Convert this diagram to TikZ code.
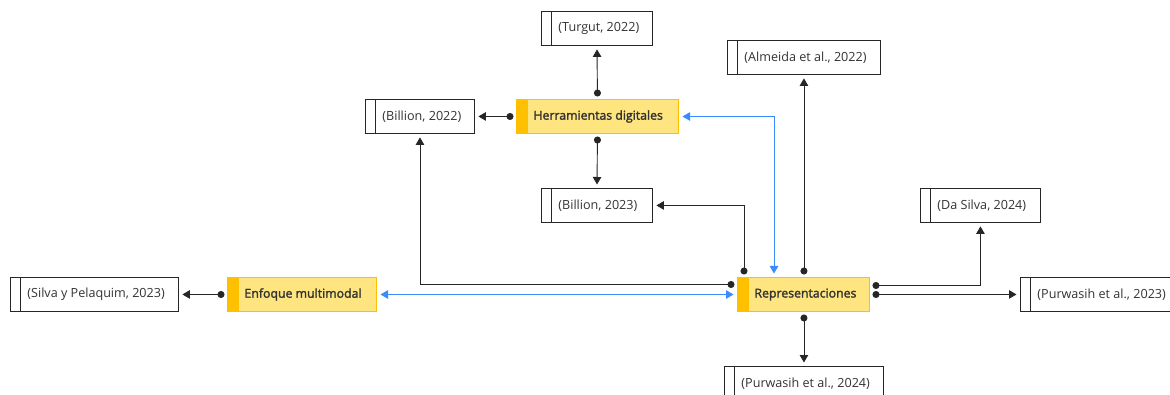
\documentclass[tikz,border=0pt]{standalone}
\usepackage{fontspec}
\setmainfont{Open Sans}
\newfontfamily\semib[FakeBold=2]{Open Sans}
\usetikzlibrary{arrows.meta}
\definecolor{txt}{HTML}{333333}
\definecolor{edge}{HTML}{262626}
\definecolor{topicfill}{HTML}{FFE57F}
\definecolor{topicedge}{HTML}{FFC000}
\definecolor{linkblue}{HTML}{3A8BFF}
% fixed-width label: text starts after the left strip
\newcommand{\bx}[2]{\makebox[#1][l]{\hspace{17pt}#2}}
\tikzset{
  refbox/.style={draw=edge, fill=white, line width=0.9pt, minimum height=34pt,
    inner sep=0pt, anchor=north west, text=txt, font=\fontsize{12.6}{14}\selectfont,
    path picture={\draw[edge, line width=0.9pt]
      ([xshift=10pt]path picture bounding box.north west) --
      ([xshift=10pt]path picture bounding box.south west);}},
  topic/.style={draw=topicedge, fill=topicfill, line width=1pt, minimum height=34pt,
    inner sep=0pt, anchor=north west, text=txt, font=\semib\fontsize{12.3}{14}\selectfont,
    path picture={\fill[topicedge]
      (path picture bounding box.north west) rectangle
      ([xshift=11pt]path picture bounding box.south west);}},
  link/.style={edge, line width=0.9pt, shorten <=2.5pt, shorten >=3.5pt,
    {Circle[length=7pt]}-{Triangle[length=7.5pt,width=8.5pt]}},
  duo/.style={linkblue, line width=0.9pt, shorten <=3.5pt, shorten >=3.5pt,
    {Triangle[length=7.5pt,width=8.5pt]}-{Triangle[length=7.5pt,width=8.5pt]}}
}
\begin{document}
\begin{tikzpicture}[x=1pt,y=-1pt]
\useasboundingbox (0,0) rectangle (1170,395);
\clip (0,0) rectangle (1170,395);

% central topics
\node[topic] (herr) at (516,99) {\bx{162pt}{Herramientas digitales}};
\node[topic] (enf)  at (227,277) {\bx{149pt}{Enfoque multimodal}};
\node[topic] (rep)  at (737,277) {\bx{132pt}{Representaciones}};

% references
\node[refbox] (turgut) at (541,11)  {\bx{111pt}{(Turgut, 2022)}};
\node[refbox] (bil22)  at (365,99)  {\bx{109pt}{(Billion, 2022)}};
\node[refbox] (alm)    at (727,40)  {\bx{153pt}{(Almeida et al., 2022)}};
\node[refbox] (bil23)  at (541,188) {\bx{111pt}{(Billion, 2023)}};
\node[refbox] (das)    at (920,188) {\bx{120pt}{(Da Silva, 2024)}};
\node[refbox] (silva)  at (10,277)  {\bx{168pt}{(Silva y Pelaquim, 2023)}};
\node[refbox] (pur23)  at (1020,277){\bx{165pt}{(Purwasih et al., 2023)}};
\node[refbox] (pur24)  at (724,366) {\bx{159pt}{(Purwasih et al., 2024)}};

% Herramientas digitales
\draw[link] (herr.north) -- (turgut.south);
\draw[link] (herr.west) -- (bil22.east);
\draw[link] (herr.south) -- (bil23.north);

% Enfoque multimodal
\draw[link] (enf.west) -- (silva.east);

% Representaciones
\draw[link] ([yshift=10pt]rep.west) -| (bil22.south);
\draw[link] ([xshift=7pt]rep.north west) |- (bil23.east);
\draw[link] (rep.north -| alm.south) -- (alm.south);
\draw[link] ([yshift=9pt]rep.east) -| (das.south);
\draw[link] (rep.east) -- (pur23.west);
\draw[link] (rep.south -| pur24.north) -- (pur24.north);

% two-way links
\draw[duo] ([xshift=37pt]rep.north west) |- (herr.east);
\draw[duo] (enf.east) -- (rep.west);
\end{tikzpicture}
\end{document}
